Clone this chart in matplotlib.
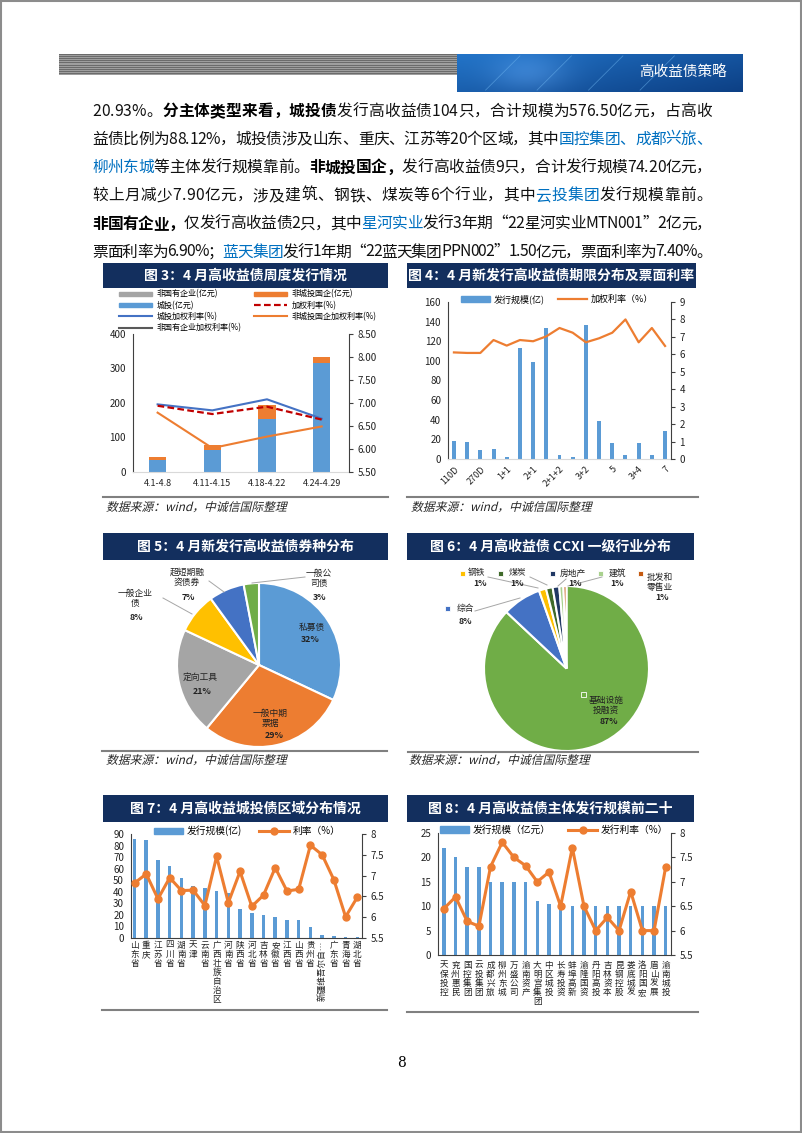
import numpy as np
import matplotlib
matplotlib.use('Agg')
import matplotlib.pyplot as plt
from matplotlib.patches import Rectangle, Patch, PathPatch
from matplotlib.lines import Line2D
from matplotlib.textpath import TextPath
from matplotlib.font_manager import FontProperties
from matplotlib.transforms import Affine2D
from matplotlib.ticker import FuncFormatter

plt.rcParams['font.family'] = ['Noto Sans CJK SC', 'DejaVu Sans']
plt.rcParams['axes.unicode_minus'] = False

W, H = 802, 1133
BLUE = '#5b9bd5'
ORANGE = '#ed7d31'
GRAY = '#a5a5a5'
NAVY = '#132f5e'
TXTBLUE = '#0070c0'
SPINE = '#404040'

# ---- data: weekly issuance (fig 3)
week_labels = ['4.1-4.8', '4.11-4.15', '4.18-4.22', '4.24-4.29']
week_chengtou = [36, 64.5, 154, 317]
week_guoqi = [7.5, 12.5, 40, 15.5]
week_minqi = [0, 1.5, 0, 2]
week_rate_ct = [6.97, 6.84, 7.08, 6.66]
week_rate_all = [6.94, 6.76, 6.92, 6.64]
week_rate_gq = [6.79, 6.02, 6.27, 6.49]
week_rate_mq = [np.nan, 7.40, np.nan, 6.90]

# ---- data: term structure (fig 4)
term_labels = ['110D', '180D', '270D', '1', '1+1', '2', '2+1', '3', '2+1+2',
               '3+1', '3+2', '3+3', '5', '5+2', '3+4', '6', '7']
term_size = [18, 17, 9.2, 10.5, 1.7, 113, 99, 134, 3.7, 1.7, 137, 38.7, 16, 4.4, 16.6, 3.7, 28.5]
term_rate = [6.11, 6.08, 6.08, 6.82, 6.5, 6.82, 6.75, 7.03, 7.51, 7.24, 6.69, 6.92, 7.24,
             8.0, 6.69, 7.51, 6.48]

# ---- data: bond types (fig 5)
type_labels = ['私募债', '一般中期票据', '定向工具', '一般企业债', '超短期融资券', '一般公司债']
type_share = [32, 29, 21, 8, 7, 3]
type_colors = ['#5b9bd5', '#ed7d31', '#a5a5a5', '#ffc000', '#4472c4', '#70ad47']

# ---- data: industries (fig 6)
ind_labels = ['基础设施投融资', '综合', '钢铁', '煤炭', '房地产', '建筑', '批发和零售业']
ind_share = [87.0, 7.6, 1.4, 1.3, 1.3, 0.8, 0.6]
ind_colors = ['#70ad47', '#4472c4', '#ffc000', '#3f6a2a', '#203864', '#a9d18e', '#c55a11']

# ---- data: regions (fig 7)
region_names = ['山东省', '重庆', '江苏省', '四川省', '湖南省', '天津', '云南省', '广西壮族自治区',
                '河南省', '陕西省', '河北省', '吉林省', '安徽省', '江西省', '山西省', '贵州省',
                '新疆维吾尔自治区', '广东省', '青海省', '湖北省']
region_size = [85.7, 84.5, 67.3, 62, 51.7, 45, 43, 41, 39, 25, 21.6, 19.5, 18.4, 16, 15.8,
               9.2, 2.3, 1.7, 1.1, 1.1]
region_rate = [6.82, 7.04, 6.44, 6.95, 6.64, 6.65, 6.28, 7.46, 6.35, 7.1, 6.26, 6.53, 7.19,
               6.63, 6.67, 7.73, 7.5, 6.9, 6.01, 6.48]

# ---- data: top 20 issuers (fig 8)
issuer_names = ['天保投控', '兖州惠民', '国控集团', '云投集团', '成都兴旅', '柳州东城', '万盛公司',
                '渝南资产', '大明宫集团', '中区城投', '长寿投资', '蚌埠高新', '渝隆国资', '丹阳高投',
                '吉林资本', '昆钢控股', '娄底城发', '洛阳国宏', '眉山发展', '渝南城投']
issuer_size = [22, 20, 18, 18, 15, 15, 15, 15, 11, 10.5, 10, 10, 10, 10, 10, 10, 10, 10, 10, 10]
issuer_rate = [6.45, 6.69, 6.19, 6.09, 7.31, 7.81, 7.5, 7.33, 7.0, 7.2, 6.5, 7.7, 6.5, 6.0,
               6.27, 6.0, 6.8, 6.0, 6.0, 7.31]

# ---- body text lines: (text, style)  n normal, b bold, u blue
body = [
    [('20.93%。', 'n'), ('分主体类型来看，城投债', 'b'), ('发行高收益债104只，合计规模为576.50亿元，占高收', 'n')],
    [('益债比例为88.12%，城投债涉及山东、重庆、江苏等20个区域，其中', 'n'), ('国控集团、成都兴旅、', 'u')],
    [('柳州东城', 'u'), ('等主体发行规模靠前。', 'n'), ('非城投国企，', 'b'), ('发行高收益债9只，合计发行规模74.20亿元，', 'n')],
    [('较上月减少7.90亿元，涉及建筑、钢铁、煤炭等6个行业，其中', 'n'), ('云投集团', 'u'), ('发行规模靠前。', 'n')],
    [('非国有企业，', 'b'), ('仅发行高收益债2只，其中', 'n'), ('星河实业', 'u'), ('发行3年期“22星河实业MTN001”2亿元，', 'n')],
    [('票面利率为6.90%；', 'n'), ('蓝天集团', 'u'), ('发行1年期“22蓝天集团PPN002”1.50亿元，票面利率为7.40%。', 'n')],
]

fig = plt.figure(figsize=(W / 100, H / 100), dpi=100)
renderer = fig.canvas.get_renderer()


def add_ax(x0, y0, x1, y1):
    return fig.add_axes([x0 / W, 1 - y1 / H, (x1 - x0) / W, (y1 - y0) / H])


def ftext(x, y, s, **kw):
    return fig.text(x / W, 1 - y / H, s, **kw)


def fline(x0, x1, y0, y1, **kw):
    fig.add_artist(Line2D([x0 / W, x1 / W], [1 - y0 / H, 1 - y1 / H], transform=fig.transFigure, **kw))


def frect(x0, y0, x1, y1, **kw):
    fig.add_artist(Rectangle((x0 / W, 1 - y1 / H), (x1 - x0) / W, (y1 - y0) / H,
                             transform=fig.transFigure, **kw))


# page border
frect(1, 1, W - 1, H - 1, facecolor='none', edgecolor='#8c8c8c', lw=1.5)

# header: striped grey bar + blue banner
axg = add_ax(59, 54, 457, 75)
stripes = np.array([[0.42], [0.62]] * 11)
axg.imshow(stripes, cmap='gray', vmin=0, vmax=1, aspect='auto', interpolation='nearest')
axg.axis('off')
axb = add_ax(457, 54, 743, 92)
gx = np.linspace(0, 1, 300)
gy = np.linspace(0, 1, 40)
GX, GY = np.meshgrid(gx, gy)
c0 = np.array([0.13, 0.45, 0.78])
c1 = np.array([0.05, 0.25, 0.52])
t = (0.6 * GX + 0.4 * GY)[..., None]
img = c0 * (1 - t) + c1 * t
glow = np.exp(-((GX - 0.25) ** 2) / 0.02 - ((GY - 0.5) ** 2) / 0.3)[..., None]
img = np.clip(img + 0.12 * glow, 0, 1)
axb.imshow(img, aspect='auto', extent=[0, 1, 0, 1])
for k in range(4):
    axb.plot([0.1 + 0.18 * k, 0.22 + 0.18 * k], [0.05, 0.95], color='#6fb6f0', lw=0.6, alpha=0.5)
axb.set_xlim(0, 1)
axb.set_ylim(0, 1)
axb.axis('off')
ftext(683, 72, '高收益债策略', color='white', fontsize=10.5, ha='center', va='center')

# body text, justified character by character
STYLE = {'n': ('normal', '#111111'), 'b': ('bold', '#000000'), 'u': ('medium', TXTBLUE)}


def body_line(segs, y, fs=11.3, x0=92, x1=712):
    chars = [(ch, st) for s, st in segs for ch in s]
    ws = []
    for ch, st in chars:
        fp = FontProperties(family=['Noto Sans CJK SC', 'DejaVu Sans'], size=fs, weight=STYLE[st][0])
        ws.append(renderer.get_text_width_height_descent(ch, fp, ismath=False)[0])
    gap = (x1 - x0 - sum(ws)) / (len(chars) - 1)
    x = x0
    for (ch, st), w in zip(chars, ws):
        ftext(x, y, ch, fontsize=fs, fontweight=STYLE[st][0], color=STYLE[st][1],
              ha='left', va='center')
        x += w + gap


for i, segs in enumerate(body):
    body_line(segs, 111 + i * 28.2)


def title_bar(x0, y0, x1, y1, s):
    frect(x0, y0, x1, y1, facecolor=NAVY, edgecolor='none')
    ftext((x0 + x1) / 2, (y0 + y1) / 2, s, color='white', fontsize=10, fontweight='bold',
          ha='center', va='center')


def italic_text(x, ybase, s, size_px=11.8, color='#262626'):
    tp = TextPath((0, 0), s, size=size_px, prop=FontProperties(family='Noto Sans CJK SC'))
    tr = Affine2D().skew_deg(14, 0).translate(x, H - ybase)
    fig.add_artist(PathPatch(tp, transform=tr, facecolor=color, edgecolor='none'))


SRC = '数据来源：wind，中诚信国际整理'

title_bar(103, 263, 388, 288, '图 3：4 月高收益债周度发行情况')
title_bar(407, 263, 696, 288, '图 4：4 月新发行高收益债期限分布及票面利率')
title_bar(103, 533, 388, 560, '图 5：4 月新发行高收益债券种分布')
title_bar(407, 533, 694, 560, '图 6：4 月高收益债 CCXI 一级行业分布')
title_bar(103, 795, 388, 822, '图 7：4 月高收益城投债区域分布情况')
title_bar(407, 795, 694, 822, '图 8：4 月高收益债主体发行规模前二十')

fline(103, 388, 497, 497, color='#808080', lw=1.5)
fline(407, 698, 497, 497, color='#808080', lw=1.5)
fline(102, 387, 751, 751, color='#808080', lw=1.5)
fline(408, 698, 752, 752, color='#808080', lw=1.5)
fline(102, 387, 1010, 1010, color='#808080', lw=1.5)
fline(407, 698, 1012, 1012, color='#808080', lw=1.5)
italic_text(106, 511, SRC)
italic_text(411, 511, SRC)
italic_text(106, 764, SRC)
italic_text(409, 764, SRC)

ftext(401, 1063, '8', fontsize=10, ha='center', va='center', family='DejaVu Serif')


def style_pair(ax, axr, bottom='#d9d9d9', fs=7):
    for s in ['top', 'right']:
        ax.spines[s].set_visible(False)
    for s in ['top', 'left', 'bottom']:
        axr.spines[s].set_visible(False)
    ax.spines['left'].set_color(SPINE)
    ax.spines['left'].set_linewidth(0.8)
    axr.spines['right'].set_color(SPINE)
    axr.spines['right'].set_linewidth(0.8)
    ax.spines['bottom'].set_color(bottom)
    ax.spines['bottom'].set_linewidth(0.8)
    ax.tick_params(axis='y', length=0, labelsize=fs, pad=5, colors='#222222')
    ax.tick_params(axis='x', length=0, colors='#222222')
    axr.tick_params(axis='y', length=3, direction='out', labelsize=fs, pad=3,
                    colors='#222222', color=SPINE)


# ---------------- fig 3
ax3 = add_ax(133, 334, 349, 472)
x3 = np.arange(len(week_labels))
ct = np.array(week_chengtou)
gq = np.array(week_guoqi)
mq = np.array(week_minqi)
ax3.bar(x3, ct, 0.32, color=BLUE)
ax3.bar(x3, gq, 0.32, bottom=ct, color=ORANGE)
ax3.bar(x3, mq, 0.32, bottom=ct + gq, color=GRAY)
ax3.set_xlim(-0.45, 3.5)
ax3.set_ylim(0, 400)
ax3.set_yticks(np.arange(0, 401, 100))
ax3.set_xticks(x3)
ax3.set_xticklabels(week_labels, fontsize=6.5)
ax3.tick_params(axis='x', pad=5)
ax3r = ax3.twinx()
ax3r.plot(x3, week_rate_ct, color='#4472c4', lw=1.5)
ax3r.plot(x3, week_rate_all, color='#c00000', lw=1.6, ls=(0, (3, 1.5)))
ax3r.plot(x3, week_rate_gq, color=ORANGE, lw=1.5)
ax3r.plot(x3, week_rate_mq, color='#595959', lw=1.5)
ax3r.set_ylim(5.5, 8.5)
ax3r.set_yticks(np.arange(5.5, 8.51, 0.5))
ax3r.yaxis.set_major_formatter(FuncFormatter(lambda v, p: '%.2f' % v))
style_pair(ax3, ax3r)
h3 = [Patch(color=GRAY), Patch(color=BLUE), Line2D([], [], color='#4472c4', lw=1.5),
      Line2D([], [], color='#595959', lw=1.5), Patch(color=ORANGE),
      Line2D([], [], color='#c00000', lw=1.6, ls=(0, (3, 1.5))), Line2D([], [], color=ORANGE, lw=1.5)]
l3 = ['非国有企业(亿元)', '城投(亿元)', '城投加权利率(%)', '非国有企业加权利率(%)',
      '非城投国企(亿元)', '加权利率(%)', '非城投国企加权利率(%)']
fig.legend(h3, l3, loc='upper left', bbox_to_anchor=(117 / W, 1 - 288 / H), ncol=2,
           frameon=False, fontsize=5.8, handlelength=4.2, handleheight=0.5, handletextpad=0.5,
           labelspacing=0.25, columnspacing=1.5, borderaxespad=0, borderpad=0.2)

# ---------------- fig 4
ax4 = add_ax(448, 302, 671, 459)
x4 = np.arange(len(term_labels))
ax4.bar(x4, term_size, 0.3, color=BLUE)
ax4.set_xlim(-0.45, len(term_labels) - 0.55)
ax4.set_ylim(0, 160)
ax4.set_yticks(np.arange(0, 161, 20))
ax4.set_xticks(x4[::2])
ax4.set_xticklabels(term_labels[::2], rotation=45, ha='right', rotation_mode='anchor', fontsize=6.5)
ax4.tick_params(axis='x', pad=4)
ax4r = ax4.twinx()
ax4r.plot(x4, term_rate, color=ORANGE, lw=1.6)
ax4r.set_ylim(0, 9)
ax4r.set_yticks(np.arange(0, 10, 1))
style_pair(ax4, ax4r)
fig.legend([Patch(color=BLUE), Line2D([], [], color=ORANGE, lw=1.6)], ['发行规模(亿)', '加权利率（%）'],
           loc='center', bbox_to_anchor=(557 / W, 1 - 299 / H), ncol=2, frameon=False, fontsize=6.5,
           handlelength=3.2, handleheight=0.6, columnspacing=1.5, handletextpad=0.4)

# ---------------- fig 5 (pie)
C5 = (259, 665)
R5 = 82.0
ax5 = add_ax(108, 562, 392, 752)
ax5.pie(type_share, colors=type_colors, startangle=90, counterclock=False,
        wedgeprops=dict(edgecolor='white', linewidth=1.5))
ax5.set_aspect('auto')
ax5.set_xlim((108 - C5[0]) / R5, (392 - C5[0]) / R5)
ax5.set_ylim((C5[1] - 752) / R5, (C5[1] - 562) / R5)


def p5(x, y):
    return (x - C5[0]) / R5, (C5[1] - y) / R5


name5 = ['私募债', '一般中期\n票据', '定向工具', '一般企业\n债', '超短期融\n资债券', '一般公\n司债']
name_pos5 = [(312, 627), (270, 718), (200, 677), (135, 598), (187, 577), (319, 578)]
pct_pos5 = [(310, 640), (274, 736), (202, 691), (136, 617), (188, 597), (320, 597)]
for nm, v, npos, ppos in zip(name5, type_share, name_pos5, pct_pos5):
    ax5.text(*p5(*npos), nm, fontsize=6.3, ha='center', va='center', linespacing=1.15, color='#222222')
    ax5.text(*p5(*ppos), '%d%%' % v, fontsize=6.3, ha='center', va='center', fontweight='bold',
             color='#222222')
for (xa, ya), (xb, yb) in [((163, 598), (192, 614)), ((209, 581), (224, 592)), ((305, 577), (252, 583))]:
    ax5.plot(*zip(p5(xa, ya), p5(xb, yb)), color='#a6a6a6', lw=0.7)

# ---------------- fig 6 (pie)
C6 = (566.5, 668.5)
R6 = 82.5
ax6 = add_ax(408, 562, 700, 752)
ax6.pie(ind_share, colors=ind_colors, startangle=90, counterclock=False,
        wedgeprops=dict(edgecolor='white', linewidth=1.5))
ax6.set_aspect('auto')
ax6.set_xlim((408 - C6[0]) / R6, (700 - C6[0]) / R6)
ax6.set_ylim((C6[1] - 752) / R6, (C6[1] - 562) / R6)


def p6(x, y):
    return (x - C6[0]) / R6, (C6[1] - y) / R6


name6 = ['基础设施\n投融资', '综合', '钢铁', '煤炭', '房地产', '建筑', '批发和\n零售业']
sq6 = [(583, 694), (447, 608), (462, 573), (500, 573), (552, 573), (600, 573), (640, 573)]
name_pos6 = [(606, 701), (465, 608), (477, 573), (517, 573), (573, 573), (617, 573), (660, 578)]
pct_pos6 = [(609, 721), (465, 621), (480, 584), (517, 584), (575, 584), (617, 584), (662, 598)]
for i, (nm, v) in enumerate(zip(name6, ind_share)):
    nx, ny = name_pos6[i]
    va = 'top' if '\n' in nm else 'center'
    yy = ny - 5 if '\n' in nm else ny
    ax6.text(*p6(nx, yy), nm, fontsize=6.3, ha='center', va=va, linespacing=1.15, color='#222222')
    ax6.text(*p6(*pct_pos6[i]), '%.0f%%' % v, fontsize=6.3, ha='center', va='center',
             fontweight='bold', color='#222222')
    ax6.plot(*p6(*sq6[i]), marker='s', ms=3.6, color=ind_colors[i], mec='white', mew=0.6,
             ls='none', clip_on=False)
for (xa, ya), (xb, yb) in [((475, 611), (520, 598)), ((488, 577), (538, 588)), ((530, 577), (547, 585)),
                           ((566, 579), (558, 586)), ((602, 577), (568, 586))]:
    ax6.plot(*zip(p6(xa, ya), p6(xb, yb)), color='#a6a6a6', lw=0.7, clip_on=False)


# ---------------- fig 7 / fig 8 helpers
def vert(name, maxlen=7):
    if len(name) > maxlen:
        return name[:6] + '…', 90
    return '\n'.join(name), 0


def bar_line(ax, names, size, rate, ylim, ystep, leg_labels, leg_center, xlim, pad):
    x = np.arange(len(names))
    ax.bar(x, size, 0.3, color=BLUE, zorder=1)
    ax.set_xlim(*xlim)
    ax.set_ylim(*ylim)
    ax.set_yticks(np.arange(ylim[0], ylim[1] + 0.1, ystep))
    ax.set_xticks(x)
    labs = [vert(n) for n in names]
    ax.set_xticklabels([l for l, r in labs], fontsize=6.2, linespacing=1.0, va='top')
    for tl, (l, r) in zip(ax.get_xticklabels(), labs):
        tl.set_rotation(r)
    axr = ax.twinx()
    axr.plot(x, rate, color=ORANGE, lw=2.2, marker='o', ms=5)
    axr.set_ylim(5.5, 8)
    axr.set_yticks(np.arange(5.5, 8.01, 0.5))
    axr.yaxis.set_major_formatter(FuncFormatter(lambda v, p: '%g' % v))
    style_pair(ax, axr, bottom=SPINE)
    ax.tick_params(axis='x', pad=pad)
    fig.legend([Patch(color=BLUE), Line2D([], [], color=ORANGE, lw=2.2, marker='o', ms=5)], leg_labels,
               loc='center', bbox_to_anchor=(leg_center[0] / W, 1 - leg_center[1] / H), ncol=2,
               frameon=False, fontsize=7, handlelength=3.0, handleheight=0.6, columnspacing=1.8,
               handletextpad=0.4)
    return axr


ax7 = add_ax(131, 834, 362, 938)
bar_line(ax7, region_names, region_size, region_rate, (0, 90), 10, ['发行规模(亿)', '利率（%）'],
         (247, 831), (-0.3, len(region_names) - 0.6), 2)

ax8 = add_ax(438, 833, 671, 955)
bar_line(ax8, issuer_names, issuer_size, issuer_rate, (0, 25), 5, ['发行规模（亿元）', '发行利率（%）'],
         (554, 830), (-0.5, len(issuer_names) - 0.55), 4)

fig.savefig('out.png', dpi=100)
